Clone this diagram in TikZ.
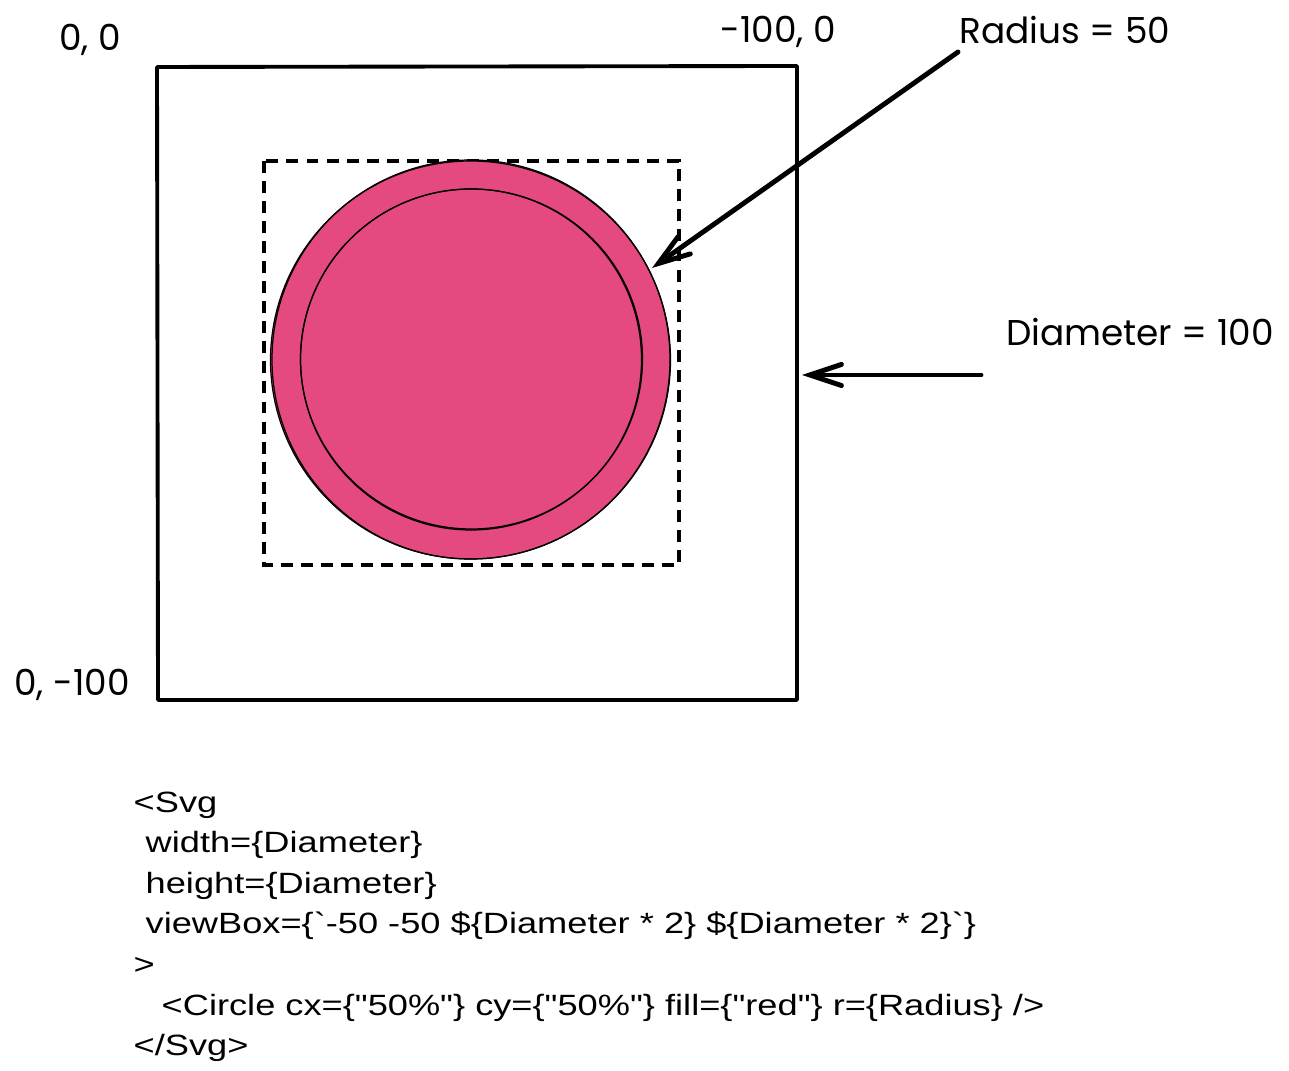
\documentclass[tikz,border=0pt]{standalone}
\usepackage{fontspec}
\setmainfont{Poppins}
\newfontfamily\codefont[FakeStretch=1.235,Ligatures=TeXOff]{Liberation Sans}
\usetikzlibrary{arrows.meta}
\definecolor{circlepink}{RGB}{228,73,128}

\begin{document}
\begin{tikzpicture}[x=0.01cm,y=-0.01cm,
  hand/.style={font=\fontsize{10.2}{12}\selectfont,inner sep=0pt},
  code/.style={font=\codefont\fontsize{8.34}{11.66}\selectfont,anchor=base west,inner sep=0pt},
  pointer/.style={line width=1.4pt,line cap=round,-{Straight Barb[length=9pt,width=6pt,line cap=round]}},
  sketch/.style={black,line width=0.35pt}]
\useasboundingbox (0,0) rectangle (1289,1071);

% labels
\node[hand] (origin) at (90,40) {0, 0};
\node[hand] (topright) at (778,32) {-100, 0};
\node[hand] (radius) at (1065,30) {Radius = 50};
\node[hand] (diameter) at (1140,332) {Diameter = 100};
\node[hand] (bottomleft) at (72,685) {0, -100};

% viewbox and bounding square
\draw[line width=1.1pt,line join=round] (157,67) -- (797,66) -- (797,700) -- (158,700) -- cycle;
\draw[line width=1pt,dash pattern=on 3.4pt off 2.3pt] (264,161) rectangle (679,565);

% circle
\fill[circlepink] (470.5,360) ellipse [x radius=200, y radius=199];
\draw[sketch] (470.5,360) ellipse [x radius=200, y radius=199];
\draw[sketch] (471,359.5) ellipse [x radius=199, y radius=199.5];
\draw[sketch] (471.5,359) ellipse [x radius=171, y radius=170];
\draw[sketch] (471,359.5) ellipse [x radius=170.5, y radius=170.5];

% pointers
\coordinate (radtail) at (958,52);
\coordinate (radtip) at (652,268);
\coordinate (diatail) at (981,375);
\coordinate (diatip) at (802,375);
\draw[pointer] (radtail) -- (radtip);
\draw[pointer] (diatail) -- (diatip);

% code
\node[code] (code1) at (133,812) {<Svg};
\node[code] (code2) at (145,852.6) {width=\{Diameter\}};
\node[code] (code3) at (145,893.2) {height=\{Diameter\}};
\node[code] (code4) at (145,933.8) {viewBox=\{`-50 -50 \$\{Diameter * 2\} \$\{Diameter * 2\}`\}};
\node[code] (code5) at (133,974.4) {>};
\node[code] (code6) at (161,1015) {<Circle cx=\{"50\%"\} cy=\{"50\%"\} fill=\{"red"\} r=\{Radius\} />};
\node[code] (code7) at (133,1055.6) {</Svg>};

\end{tikzpicture}
\end{document}
